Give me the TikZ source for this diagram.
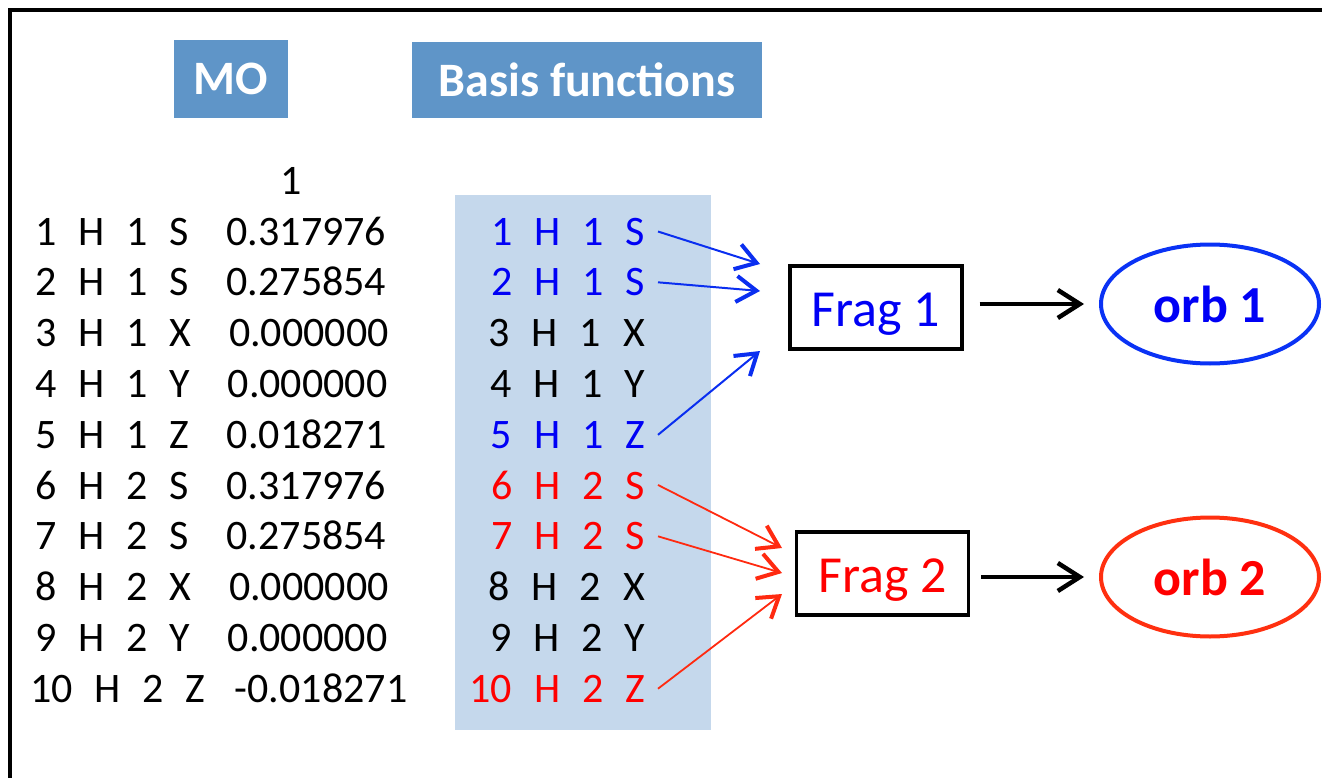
\documentclass[tikz,border=0pt]{standalone}
\usepackage{fontspec}
\setmainfont{Carlito}
\usetikzlibrary{arrows.meta,shapes.geometric}
\definecolor{hdrblue}{HTML}{5F95C8}
\definecolor{panel}{HTML}{C5D8EC}
\definecolor{tblue}{HTML}{0000F5}
\definecolor{ablue}{HTML}{0A2EF0}
\definecolor{eblue}{HTML}{0A32F5}
\definecolor{tred}{HTML}{FF0000}
\definecolor{ared}{HTML}{FF2A10}
\definecolor{ered}{HTML}{FF3010}
\newcommand\tb{\hspace*{0.52em}}
\newcommand\TB{\hspace*{0.9em}}
\begin{document}
\begin{tikzpicture}[x=1pt,y=-1pt,
  hdr/.style={fill=hdrblue, text=white, font=\fontsize{48}{56}\selectfont\bfseries, inner sep=0},
  row/.style={font=\fontsize{42}{50}\selectfont, inner sep=0, anchor=base west},
  brow/.style={font=\fontsize{42}{50}\selectfont, inner sep=0, anchor=base east},
  fragbox/.style={draw=black, line width=3.3pt, minimum width=172pt, minimum height=83pt, inner sep=0, text depth=0pt, font=\fontsize{52}{60}\selectfont},
  orbell/.style={ellipse, line width=4pt, minimum width=218pt, minimum height=119pt, inner sep=0, text depth=0pt, font=\fontsize{52}{60}\selectfont\bfseries},
  barrow/.style={draw=ablue, line width=2pt, -{Straight Barb[length=20pt,width=26pt,line width=4pt]}},
  rarrow/.style={draw=ared, line width=1.8pt, -{Straight Barb[length=20pt,width=26pt,line width=4pt]}},
  karrow/.style={draw=black, line width=3.3pt, -{Straight Barb[length=22pt,width=28pt,line width=4.5pt]}, shorten >=15pt},
]
\useasboundingbox (0,0) rectangle (1322,778);
\clip (0,0) rectangle (1322,778);
\draw[line width=4pt] (10,10) rectangle (1400,900);

% headers
\node[hdr, minimum width=114pt, minimum height=78pt] (mo) at (231,79) {MO};
\node[hdr, minimum width=350pt, minimum height=76pt] (bf) at (587,80) {Basis functions};

% basis panel
\fill[panel] (455,195) rectangle (711,730);

% MO column
\node[row, anchor=base] (hd) at (291,195) {1};
\node[row] (r1) at (35,245) {1\tb H\tb 1\tb S\TB 0.317976};
\node[row] (r2) at (35,295.8) {2\tb H\tb 1\tb S\TB 0.275854};
\node[row] (r3) at (35,346.6) {3\tb H\tb 1\tb X\TB 0.000000};
\node[row] (r4) at (35,397.4) {4\tb H\tb 1\tb Y\TB 0.000000};
\node[row] (r5) at (35,448.2) {5\tb H\tb 1\tb Z\TB 0.018271};
\node[row] (r6) at (35,499) {6\tb H\tb 2\tb S\TB 0.317976};
\node[row] (r7) at (35,549.8) {7\tb H\tb 2\tb S\TB 0.275854};
\node[row] (r8) at (35,600.6) {8\tb H\tb 2\tb X\TB 0.000000};
\node[row] (r9) at (35,651.4) {9\tb H\tb 2\tb Y\TB 0.000000};
\node[row] (r10) at (30,702.2) {10\tb H\tb 2\tb Z\hspace*{0.7em}-0.018271};

% basis column
\node[brow, text=tblue] (b1) at (645,245) {1\tb H\tb 1\tb S};
\node[brow, text=tblue] (b2) at (645,295.8) {2\tb H\tb 1\tb S};
\node[brow] (b3) at (645,346.6) {3\tb H\tb 1\tb X};
\node[brow] (b4) at (645,397.4) {4\tb H\tb 1\tb Y};
\node[brow, text=tblue] (b5) at (645,448.2) {5\tb H\tb 1\tb Z};
\node[brow, text=tred] (b6) at (645,499) {6\tb H\tb 2\tb S};
\node[brow, text=tred] (b7) at (645,549.8) {7\tb H\tb 2\tb S};
\node[brow] (b8) at (645,600.6) {8\tb H\tb 2\tb X};
\node[brow] (b9) at (645,651.4) {9\tb H\tb 2\tb Y};
\node[brow, text=tred] (b10) at (645,702.2) {10\tb H\tb 2\tb Z};

% fragments
\node[fragbox, text=tblue] (f1) at (876,307.5) {\raisebox{-4.5pt}{Frag 1}};
\node[fragbox, text=tred] (f2) at (882.5,573.5) {\raisebox{-4.5pt}{Frag 2}};

% orbitals
\node[orbell, draw=eblue, text=tblue] (o1) at (1210,304) {orb 1};
\node[orbell, draw=ered, text=tred] (o2) at (1210,577) {orb 2};

% arrow ends
\coordinate (t11) at (760,264);
\coordinate (t12) at (760,291);
\coordinate (t13) at (760,351);
\coordinate (t21) at (782,548);
\coordinate (t22) at (782,573);
\coordinate (t23) at (782,594);

\draw[barrow] ([xshift=13pt]b1.east) -- (t11);
\draw[barrow] ([xshift=13pt]b2.east) -- (t12);
\draw[barrow] ([xshift=13pt]b5.east) -- (t13);
\draw[rarrow] ([xshift=13pt]b6.east) -- (t21);
\draw[rarrow] ([xshift=13pt]b7.east) -- (t22);
\draw[rarrow] ([xshift=13pt]b10.east) -- (t23);

\draw[karrow, shorten <=16pt] (f1.east |- o1.west) -- (o1.west);
\draw[karrow, shorten <=11pt] (f2.east |- o2.west) -- (o2.west);
\end{tikzpicture}
\end{document}
